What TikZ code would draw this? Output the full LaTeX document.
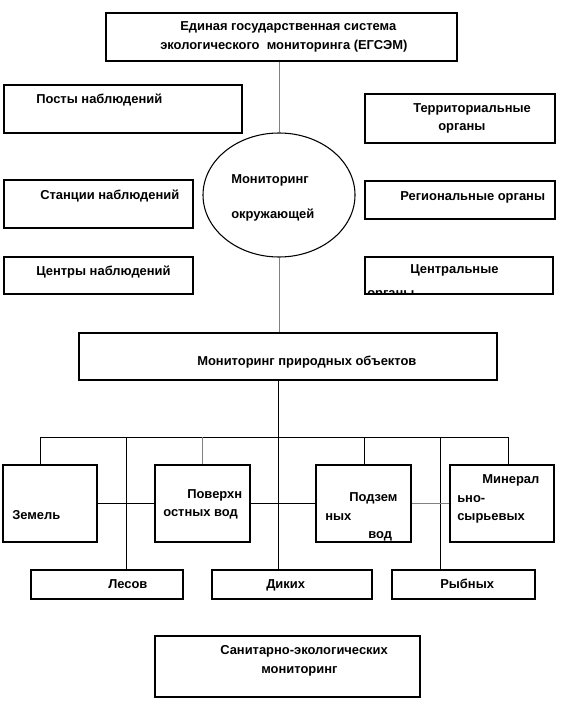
\documentclass[tikz,border=0pt]{standalone}
\usepackage{fontspec}
\setmainfont{Liberation Sans}
\usepackage{tikz}
\usetikzlibrary{shapes.geometric, positioning, fit}
\definecolor{mydark}{RGB}{0,0,0}
\definecolor{mygrey}{RGB}{128,128,128}
\tikzset{
  box/.style={rectangle,draw=mydark,inner sep=0pt,line width=0.8pt},
  bigbox/.style={rectangle,draw=mydark,inner sep=0pt,line width=1.3pt},
  txt/.style={inner sep=0pt,anchor=base west,font=\bfseries\fontsize{9.7}{11}\selectfont},
  line/.style={line width=0.7pt,color=mydark},
  greyline/.style={line width=0.7pt,color=mygrey}
}

\begin{document}
\begin{tikzpicture}[x=0.75pt,y=-0.75pt]
  \useasboundingbox (0,0) rectangle (564,723);

  % ── Top: ЕГСЭМ ───────────────────────────────────────────────────────────
  \node[bigbox, fit={(106,13) (457,61)}] (egsem) {};
  \node[txt] (egsemA) at (180,31) {Единая государственная система};
  \node[txt] (egsemB) at (160,50) {экологического\ \ мониторинга (ЕГСЭМ)};

  % ── Left column ──────────────────────────────────────────────────────────
  \node[box, fit={(4,85) (242,133)}] (posty) {};
  \node[txt] at (36,104) {Посты наблюдений};
  \node[box, fit={(4,180) (193,228)}] (stancii) {};
  \node[txt] at (40,200) {Станции наблюдений};
  \node[box, fit={(4,257) (193,294)}] (centry) {};
  \node[txt] at (36,276) {Центры наблюдений};

  % ── Centre ellipse ───────────────────────────────────────────────────────
  \node[ellipse, draw=mydark, line width=0.8pt, minimum width=114pt, minimum height=93pt,
        inner sep=0pt] (okr) at (279,195) {};
  \node[txt] at (231,184) {Мониторинг};
  \node[txt] at (231,219) {окружающей};

  % ── Right column ─────────────────────────────────────────────────────────
  \node[box, fit={(365,94) (555,143)}] (terr) {};
  \node[txt] at (413,113) {Территориальные};
  \node[txt] at (438,131) {органы};
  \node[box, fit={(365,181) (555,219)}] (reg) {};
  \node[txt] at (400,201) {Региональные органы};
  \node[box, fit={(365,257) (553,294)}] (centr) {};
  \node[txt] at (410,273) {Центральные};
  \begin{scope}
    \clip (centr.north west) rectangle (centr.south east);
    \node[txt] at (367,297) {органы};
  \end{scope}

  % ── Natural objects ──────────────────────────────────────────────────────
  \node[bigbox, fit={(79,333) (497,380)}] (prir) {};
  \node[txt] at (197,365) {Мониторинг природных объектов};

  % ── Lower boxes ──────────────────────────────────────────────────────────
  \node[box, fit={(3,465) (97,542)}] (zem) {};
  \node[txt] at (12,519) {Земель};
  \node[box, fit={(155,465) (250,542)}] (pov) {};
  \node[txt] at (187,498) {Поверхн};
  \node[txt] at (163,516) {остных вод};
  \node[box, fit={(316,465) (411,542)}] (podz) {};
  \node[txt] at (349,501) {Подзем};
  \node[txt] at (325,520) {ных};
  \node[txt] at (368,538) {вод};
  \node[box, fit={(450,465) (554,542)}] (miner) {};
  \node[txt] at (482,483) {Минерал};
  \node[txt] at (457,502) {ьно-};
  \node[txt] at (457,520) {сырьевых};

  \node[box, fit={(31,570) (183,599)}] (lesov) {};
  \node[txt] at (108,588) {Лесов};
  \node[box, fit={(212,570) (372,599)}] (dikih) {};
  \node[txt] at (266,588) {Диких};
  \node[box, fit={(392,570) (535,599)}] (rybnyh) {};
  \node[txt] at (440,588) {Рыбных};

  \node[bigbox, fit={(155,636) (420,697)}] (sanit) {};
  \node[txt] at (220,654) {Санитарно-экологических};
  \node[txt] at (261,673) {мониторинг};

  % ── Connectors ───────────────────────────────────────────────────────────
  \draw[greyline] (okr.north) -- (okr.north |- egsem.south);
  \draw[greyline] (okr.south) -- (okr.south |- prir.north);

  \coordinate (b1) at (40,437);
  \coordinate (b2) at (126,437);
  \coordinate (b3) at (202,437);
  \coordinate (b4) at (278,437);
  \coordinate (b5) at (364,437);
  \coordinate (b6) at (440,437);
  \coordinate (b7) at (508,437);
  \draw[line] (b4 |- prir.south) -- (b4);
  \draw[line] (b1) -- (b7);
  \draw[line] (b1) -- (b1 |- zem.north);
  \draw[line] (b2) -- (b2 |- lesov.north);
  \draw[greyline] (b3) -- (b3 |- pov.north);
  \draw[line] (b4) -- (b4 |- dikih.north);
  \draw[line] (b5) -- (b5 |- podz.north);
  \draw[line] (b6) -- (b6 |- rybnyh.north);
  \draw[line] (b7) -- (b7 |- miner.north);

  \draw[line] (zem.east) -- (pov.west);
  \draw[line] (pov.east) -- (podz.west);
  \draw[greyline, line width=1.4pt] (podz.east) -- (miner.west);
\end{tikzpicture}
\end{document}
